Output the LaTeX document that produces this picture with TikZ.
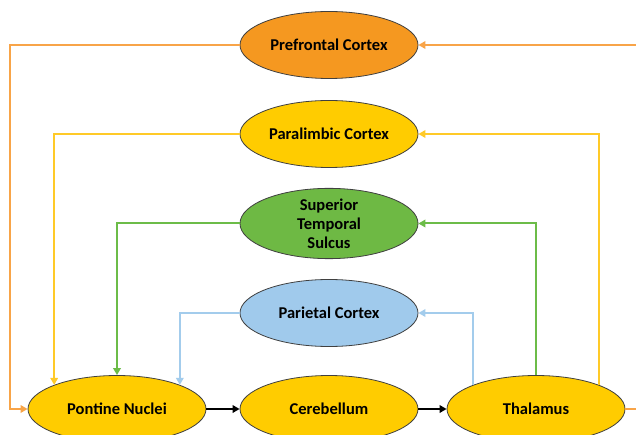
\documentclass[tikz,border=0pt]{standalone}
\usepackage{fontspec}
\setmainfont{Carlito}
\usetikzlibrary{shapes.geometric,arrows.meta}
\definecolor{fOrange}{RGB}{245,152,32}
\definecolor{fYellow}{RGB}{255,204,0}
\definecolor{fGreen}{RGB}{110,185,68}
\definecolor{fBlue}{RGB}{160,202,236}
\definecolor{lOrange}{RGB}{248,164,72}
\definecolor{lYellow}{RGB}{255,202,40}
\definecolor{lGreen}{RGB}{108,188,72}
\definecolor{lBlue}{RGB}{163,204,236}
\tikzset{
  region/.style={ellipse, draw=black!75, line width=0.8pt, minimum width=178pt, minimum height=67pt, inner sep=0pt, align=center, font=\bfseries\fontsize{16.5}{19}\selectfont},
  conn/.style={line width=2pt, -{Triangle[length=7pt,width=7.5pt]}},
}
\begin{document}
\begin{tikzpicture}[x=1pt,y=-1pt]
\useasboundingbox (0,0) rectangle (636,435);
\clip (0,0) rectangle (636,435);
\fill[white] (0,0) rectangle (636,435);
\node[region, fill=fOrange] (pre) at (329,45) {Prefrontal Cortex};
\node[region, fill=fYellow] (para) at (329,134) {Paralimbic Cortex};
\node[region, fill=fGreen] (sts) at (329,223.5) {Superior\\Temporal\\Sulcus};
\node[region, fill=fBlue] (par) at (329,313) {Parietal Cortex};
\node[region, fill=fYellow] (pn) at (117,409) {Pontine Nuclei};
\node[region, fill=fYellow] (cb) at (329,409) {Cerebellum};
\node[region, fill=fYellow] (th) at (536,409) {Thalamus};
\coordinate (oL) at (10,45);
\coordinate (oR) at (648,45);
% orange
\draw[conn, draw=lOrange, color=lOrange] (pre.west) -- (oL) |- (pn.west);
\draw[conn, draw=lOrange, color=lOrange] (th.east) -| (oR) -- (pre.east);
% yellow
\draw[conn, draw=lYellow, color=lYellow] (para.west) -| (pn.159.6);
\draw[conn, draw=lYellow, color=lYellow] (th.21) |- (para.east);
% green
\draw[conn, draw=lGreen, color=lGreen] (sts.west) -| (pn.north);
\draw[conn, draw=lGreen, color=lGreen] (th.north) |- (sts.east);
% blue
\draw[conn, draw=lBlue, color=lBlue] (par.west) -| (pn.21);
\draw[conn, draw=lBlue, color=lBlue] (th.159) |- (par.east);
% black
\draw[conn, draw=black] (pn) -- (cb);
\draw[conn, draw=black] (cb) -- (th);
\end{tikzpicture}
\end{document}
